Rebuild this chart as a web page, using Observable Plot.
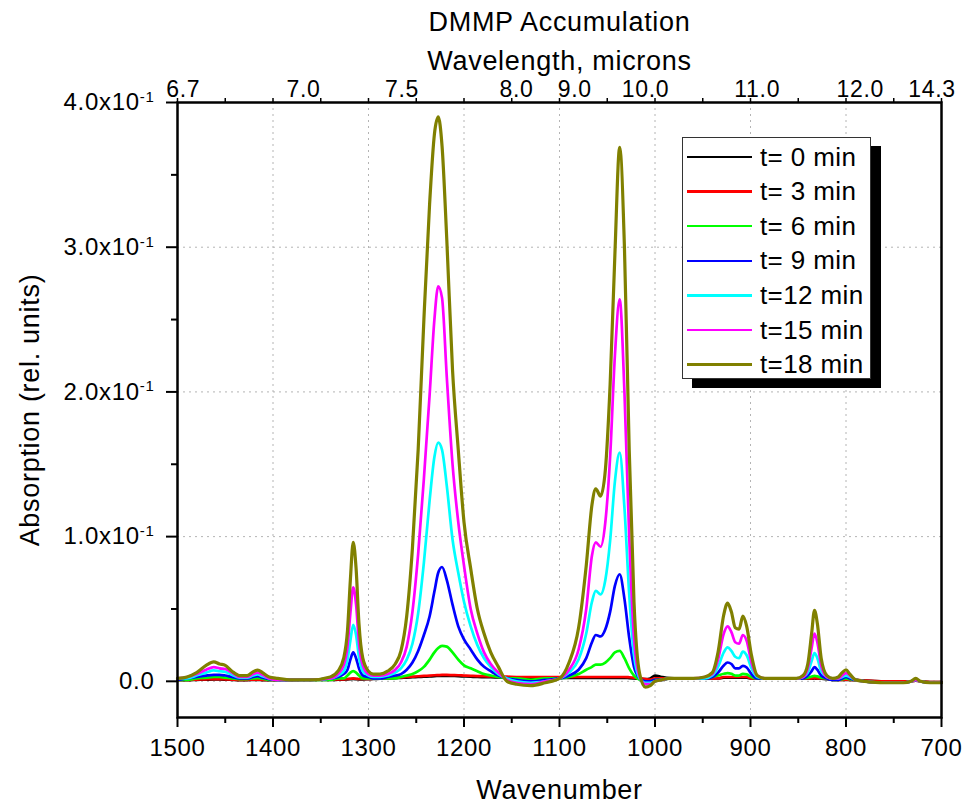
<!DOCTYPE html>
<html>
<head>
<meta charset="utf-8">
<script src="https://cdn.jsdelivr.net/npm/d3@7"></script>
<script src="https://cdn.jsdelivr.net/npm/@observablehq/plot@0.6"></script>
<style>
  body { margin: 0; background: #fff; }
  #wrap { position: relative; width: 966px; height: 804px; font-family: "Liberation Sans", Arial, sans-serif; }
  #wrap svg { display: block; }
  #legend { position: absolute; left: 682px; top: 137px; width: 189px; height: 242px; background: #fff;
            border: 1px solid #333; box-shadow: 10px 9px 0 0 #000; box-sizing: border-box; }
  .row { position: absolute; left: 0; height: 30px; display: flex; align-items: center; }
  .sw { width: 65px; height: 2.5px; margin-left: 4px; margin-right: 8px; }
  .lt { font-size: 26px; letter-spacing: 0.4px; color: #000; white-space: pre; }
</style>
</head>
<body>
<div id="wrap"></div>
<script>
// ---- data ----
const wavenumber = [
  1500, 1490, 1480, 1470, 1462, 1456, 1450, 1443, 1435, 1427, 1421, 1416, 1411, 1404, 1395, 1380, 1360,
  1340, 1332, 1326, 1322, 1319, 1316, 1313, 1310, 1306,
  1300, 1295, 1288, 1280, 1272, 1266, 1260, 1254, 1248, 1242, 1236, 1231, 1227, 1223, 1218, 1212, 1206, 1200, 1193, 1186, 1179, 1172, 1164, 1155, 1145, 1130, 1115,
  1100, 1090, 1080, 1072, 1066, 1062, 1057, 1052, 1047, 1042, 1037, 1032, 1027, 1022, 1016, 1010, 1005,
  1000, 993, 985, 975, 960, 948, 940, 934, 928, 924, 920, 916, 912, 908, 904, 899, 893, 885, 875, 862, 852, 845, 840, 836, 833, 830, 826, 820, 814, 808, 804, 800, 796, 790, 780, 760, 740, 732, 727, 722, 712, 700
];

const t0 = [
  0.0008, 0.0008, 0.001, 0.0012, 0.0013, 0.0013, 0.0012, 0.001, 0.0008, 0.0008, 0.001, 0.001, 0.0008, 0.0008, 0.0008, 0.0008, 0.001,
  0.001, 0.0011, 0.0012, 0.0014, 0.0015, 0.0016, 0.0015, 0.0014, 0.0014,
  0.0015, 0.0016, 0.0018, 0.002, 0.0022, 0.0024, 0.0026, 0.0028, 0.003, 0.0032, 0.0034, 0.0036, 0.0037, 0.0038, 0.0038, 0.0037, 0.0036, 0.0034, 0.0032, 0.003, 0.0029, 0.0028, 0.0027, 0.0026, 0.0025, 0.0024, 0.0024,
  0.0024, 0.0024, 0.0024, 0.0024, 0.0024, 0.0024, 0.0024, 0.0024, 0.0024, 0.0024, 0.0024, 0.0024, 0.0022, 0.002, 0.0018, 0.0015, 0.002,
  0.004, 0.003, 0.0022, 0.002, 0.002, 0.002, 0.002, 0.002, 0.0025, 0.0025, 0.0025, 0.0025, 0.0025, 0.0025, 0.0025, 0.002, 0.002, 0.002, 0.002, 0.0018, 0.0018, 0.0018, 0.0018, 0.0018, 0.002, 0.0018, 0.0018, 0.0015, 0.001, 0.001, 0.001, 0.001, 0.001, 0.0008, 0.0005, 0.0, 0.0, 0.0, 0.0005, 0.0, -0.0005, -0.0005
];

const t3 = [
  0.001, 0.001, 0.0012, 0.0014, 0.0015, 0.0015, 0.0014, 0.0012, 0.001, 0.001, 0.0012, 0.0012, 0.001, 0.001, 0.001, 0.001, 0.0012,
  0.0012, 0.0013, 0.0014, 0.0016, 0.0018, 0.002, 0.0018, 0.0016, 0.0016,
  0.0017, 0.0018, 0.002, 0.0022, 0.0025, 0.0027, 0.003, 0.0032, 0.0035, 0.0037, 0.004, 0.0042, 0.0043, 0.0044, 0.0044, 0.0043, 0.0042, 0.004, 0.0038, 0.0036, 0.0035, 0.0034, 0.0033, 0.0032, 0.003, 0.003, 0.003,
  0.003, 0.003, 0.003, 0.003, 0.003, 0.003, 0.003, 0.003, 0.003, 0.003, 0.003, 0.003, 0.0028, 0.0025, 0.002, 0.0015, 0.0012,
  0.002, 0.002, 0.002, 0.002, 0.002, 0.002, 0.002, 0.002, 0.003, 0.003, 0.003, 0.003, 0.003, 0.003, 0.003, 0.002, 0.002, 0.002, 0.002, 0.002, 0.002, 0.002, 0.002, 0.002, 0.0022, 0.002, 0.002, 0.002, 0.001, 0.001, 0.001, 0.0012, 0.001, 0.001, 0.0005, 0.0, 0.0, 0.0, 0.0005, 0.0, -0.0005, -0.0005
];

const t6 = [
  0.001, 0.001, 0.002, 0.0025, 0.003, 0.003, 0.0025, 0.002, 0.0015, 0.0015, 0.002, 0.0022, 0.0018, 0.001, 0.001, 0.001, 0.001,
  0.001, 0.002, 0.002, 0.004, 0.006, 0.007, 0.006, 0.004, 0.002,
  0.002, 0.002, 0.002, 0.002, 0.002, 0.003, 0.004, 0.005, 0.007, 0.01, 0.015, 0.02, 0.023, 0.0245, 0.024, 0.02, 0.015, 0.011, 0.009, 0.007, 0.005, 0.004, 0.003, 0.002, 0.002, 0.001, 0.002,
  0.002, 0.003, 0.005, 0.008, 0.010, 0.0115, 0.0115, 0.013, 0.016, 0.020, 0.021, 0.016, 0.009, 0.004, 0.001, 0.0, 0.0,
  0.001, 0.001, 0.002, 0.002, 0.002, 0.002, 0.003, 0.004, 0.0052, 0.0057, 0.0052, 0.004, 0.004, 0.0052, 0.0048, 0.003, 0.002, 0.002, 0.002, 0.002, 0.002, 0.002, 0.0025, 0.0033, 0.0038, 0.0034, 0.0025, 0.002, 0.001, 0.001, 0.0015, 0.002, 0.0015, 0.001, 0.0, -0.001, -0.001, 0.0, 0.001, 0.0, -0.001, -0.001
];

const t9 = [
  0.001, 0.002, 0.003, 0.004, 0.0045, 0.0045, 0.004, 0.003, 0.002, 0.002, 0.003, 0.0035, 0.0025, 0.0015, 0.001, 0.001, 0.001,
  0.002, 0.003, 0.005, 0.008, 0.015, 0.02, 0.016, 0.009, 0.004,
  0.003, 0.002, 0.002, 0.003, 0.004, 0.005, 0.008, 0.013, 0.021, 0.032, 0.045, 0.062, 0.075, 0.079, 0.07, 0.053, 0.038, 0.029, 0.022, 0.015, 0.01, 0.007, 0.004, 0.002, 0.001, 0.0, 0.001,
  0.002, 0.004, 0.008, 0.016, 0.027, 0.032, 0.031, 0.036, 0.048, 0.066, 0.074, 0.057, 0.03, 0.01, 0.002, 0.0, 0.0,
  0.001, 0.001, 0.002, 0.002, 0.002, 0.002, 0.003, 0.006, 0.011, 0.013, 0.012, 0.009, 0.009, 0.0107, 0.0095, 0.005, 0.002, 0.002, 0.002, 0.002, 0.002, 0.002, 0.004, 0.007, 0.0098, 0.008, 0.004, 0.002, 0.001, 0.001, 0.002, 0.003, 0.002, 0.001, 0.0, -0.001, -0.001, 0.0, 0.001, 0.0, -0.001, -0.001
];

const t12 = [
  0.002, 0.002, 0.004, 0.006, 0.0075, 0.007, 0.0065, 0.0045, 0.0025, 0.0025, 0.004, 0.0048, 0.0035, 0.002, 0.001, 0.001, 0.001,
  0.002, 0.004, 0.007, 0.015, 0.028, 0.039, 0.032, 0.017, 0.007,
  0.004, 0.003, 0.003, 0.004, 0.006, 0.009, 0.015, 0.026, 0.047, 0.082, 0.125, 0.155, 0.165, 0.16, 0.135, 0.098, 0.075, 0.055, 0.038, 0.025, 0.016, 0.01, 0.005, 0.002, 0.0, -0.001, 0.0,
  0.002, 0.006, 0.015, 0.033, 0.055, 0.0625, 0.060, 0.07, 0.097, 0.138, 0.158, 0.12, 0.06, 0.018, 0.002, -0.001, -0.001,
  0.0, 0.001, 0.002, 0.002, 0.002, 0.002, 0.004, 0.01, 0.02, 0.0234, 0.021, 0.017, 0.016, 0.0205, 0.018, 0.009, 0.003, 0.002, 0.002, 0.002, 0.002, 0.003, 0.006, 0.014, 0.0195, 0.016, 0.007, 0.003, 0.002, 0.002, 0.003, 0.004, 0.003, 0.001, 0.0, -0.001, -0.001, 0.0, 0.001, 0.0, -0.001, -0.001
];

const t15 = [
  0.002, 0.003, 0.005, 0.008, 0.0098, 0.009, 0.0085, 0.006, 0.003, 0.003, 0.005, 0.006, 0.0045, 0.002, 0.001, 0.001, 0.001,
  0.002, 0.005, 0.011, 0.024, 0.047, 0.065, 0.053, 0.027, 0.011,
  0.005, 0.004, 0.004, 0.005, 0.008, 0.013, 0.024, 0.048, 0.088, 0.14, 0.198, 0.25, 0.273, 0.265, 0.21, 0.15, 0.11, 0.08, 0.05, 0.033, 0.02, 0.012, 0.006, 0.001, -0.001, -0.002, 0.0,
  0.002, 0.008, 0.022, 0.05, 0.087, 0.096, 0.093, 0.11, 0.155, 0.225, 0.264, 0.20, 0.10, 0.03, 0.003, -0.002, -0.002,
  0.0, 0.001, 0.002, 0.002, 0.002, 0.003, 0.005, 0.015, 0.033, 0.038, 0.034, 0.027, 0.026, 0.032, 0.028, 0.013, 0.004, 0.002, 0.002, 0.002, 0.002, 0.003, 0.009, 0.023, 0.033, 0.027, 0.011, 0.003, 0.002, 0.002, 0.004, 0.0057, 0.004, 0.001, 0.0, -0.001, -0.001, 0.0, 0.001, 0.0, -0.001, -0.001
];

const t18 = [
  0.002, 0.003, 0.006, 0.011, 0.0135, 0.012, 0.011, 0.007, 0.004, 0.004, 0.0065, 0.0078, 0.006, 0.003, 0.002, 0.001, 0.001,
  0.003, 0.007, 0.016, 0.035, 0.07, 0.096, 0.078, 0.04, 0.016,
  0.007, 0.005, 0.005, 0.007, 0.012, 0.021, 0.045, 0.092, 0.16, 0.25, 0.33, 0.378, 0.39, 0.37, 0.305, 0.215, 0.16, 0.11, 0.078, 0.05, 0.033, 0.02, 0.01, 0.0, -0.002, -0.003, -0.001,
  0.002, 0.013, 0.037, 0.08, 0.122, 0.133, 0.128, 0.146, 0.205, 0.295, 0.369, 0.30, 0.16, 0.055, 0.005, -0.004, -0.003,
  0.0, 0.001, 0.002, 0.002, 0.002, 0.003, 0.006, 0.02, 0.046, 0.054, 0.048, 0.037, 0.036, 0.045, 0.038, 0.018, 0.004, 0.002, 0.002, 0.002, 0.002, 0.004, 0.012, 0.033, 0.049, 0.04, 0.016, 0.004, 0.002, 0.003, 0.006, 0.008, 0.005, 0.001, 0.0, -0.001, -0.001, 0.0, 0.002, 0.0, -0.001, -0.001
];

const seriesNames  = ["t= 0 min", "t= 3 min", "t= 6 min", "t= 9 min", "t=12 min", "t=15 min", "t=18 min"];
const seriesValues = [t0, t3, t6, t9, t12, t15, t18];
const seriesColors = ["#000000", "#ff0000", "#00ff00", "#0000ff", "#00ffff", "#ff00ff", "#808000"];

const xMajorTicks = [1500, 1400, 1300, 1200, 1100, 1000, 900, 800, 700];
const xMinorTicks = [1450, 1350, 1250, 1150, 1050, 950, 850, 750];
const yMajorTicks = [0, 0.1, 0.2, 0.3, 0.4];
const yMinorTicks = [0.05, 0.15, 0.25, 0.35];
const yTickLabels = ["0.0", "1.0x10^-1", "2.0x10^-1", "3.0x10^-1", "4.0x10^-1"];
const topLabels   = ["6.7", "7.0", "7.5", "8.0", "9.0", "10.0", "11.0", "12.0", "14.3"];
const topLabelPos = [1494, 1368, 1265, 1145, 1084, 1010, 893, 785, 710];

const titleText  = "DMMP Accumulation";
const topAxisTitle = "Wavelength, microns";
const xTitle = "Wavenumber";
const yTitle = "Absorption (rel. units)";

// ---- build ----
const tables = seriesValues.map((vals, s) => wavenumber.map((w, i) => ({wn: w, v: vals[i], s: seriesNames[s]})));
const font = '"Liberation Sans", Arial, sans-serif';

const lineMarks = tables.map((tbl, s) => Plot.line(tbl, {
  x: "wn", y: "v", stroke: seriesColors[s], strokeWidth: s === 6 ? 3.2 : 2.7, curve: "monotone-x"
}));

const chart = Plot.plot({
  width: 966, height: 804,
  marginLeft: 177, marginRight: 25, marginTop: 102, marginBottom: 87,
  style: {fontFamily: font, fontSize: "24px", letterSpacing: "0.7px", background: "#fff", color: "#000", overflow: "visible"},
  x: {domain: [1500, 700]},
  y: {domain: [-0.025, 0.4]},
  marks: [
    Plot.gridX(xMajorTicks, {stroke: "#b4b4b4", strokeOpacity: 1, strokeWidth: 1, strokeDasharray: "2,4"}),
    Plot.gridY(yMajorTicks, {stroke: "#b4b4b4", strokeOpacity: 1, strokeWidth: 1, strokeDasharray: "2,4"}),
    ...lineMarks,
    Plot.frame({stroke: "#000", strokeWidth: 2.5}),
    Plot.axisX(xMajorTicks, {anchor: "bottom", tickSize: 10, tickPadding: 11, strokeWidth: 2,
      tickFormat: d => String(d), label: null, fontSize: 24}),
    Plot.axisX(xMinorTicks, {anchor: "bottom", tickSize: 6, strokeWidth: 2, tickFormat: () => "", label: null}),
    Plot.axisX([...xMajorTicks, ...xMinorTicks], {anchor: "top", tickSize: 5, strokeWidth: 1.5, tickFormat: () => "", label: null}),
    Plot.axisY(yMajorTicks, {anchor: "left", tickSize: 11, tickPadding: 12, strokeWidth: 2,
      tickFormat: d => yTickLabels[yMajorTicks.indexOf(d)], label: null, fontSize: 24}),
    Plot.axisY(yMinorTicks, {anchor: "left", tickSize: 6, strokeWidth: 2, tickFormat: () => "", label: null}),
    Plot.text(topLabels, {x: topLabelPos, text: d => d, frameAnchor: "top", dy: -13, lineAnchor: "middle", fontSize: 23}),
    Plot.text([topAxisTitle], {frameAnchor: "top", dy: -41, lineAnchor: "middle", textAnchor: "middle", fontSize: 27}),
    Plot.text([titleText], {frameAnchor: "top", dy: -80, lineAnchor: "middle", textAnchor: "middle", fontSize: 27}),
    Plot.text([xTitle], {frameAnchor: "bottom", dy: 73, lineAnchor: "middle", textAnchor: "middle", fontSize: 27}),
    Plot.text([yTitle], {frameAnchor: "left", dx: -147, rotate: -90, lineAnchor: "middle", textAnchor: "middle", fontSize: 27})
  ]
});

// superscript exponent in y tick labels
chart.querySelectorAll("text").forEach(t => {
  const s = t.textContent;
  if (s.includes("^")) {
    const [base, exp] = s.split("^");
    t.textContent = base;
    const ts = document.createElementNS("http://www.w3.org/2000/svg", "tspan");
    ts.setAttribute("dy", "-0.55em");
    ts.setAttribute("font-size", "15px");
    ts.textContent = exp;
    t.appendChild(ts);
  }
});

const wrap = document.getElementById("wrap");
wrap.appendChild(chart);

// legend
const legend = document.createElement("div");
legend.id = "legend";
seriesNames.forEach((name, i) => {
  const row = document.createElement("div");
  row.className = "row";
  row.style.top = (4 + i * 34.6) + "px";
  const sw = document.createElement("div");
  sw.className = "sw";
  sw.style.background = seriesColors[i];
  const lt = document.createElement("span");
  lt.className = "lt";
  lt.textContent = name;
  row.appendChild(sw);
  row.appendChild(lt);
  legend.appendChild(row);
});
wrap.appendChild(legend);
</script>
</body>
</html>
